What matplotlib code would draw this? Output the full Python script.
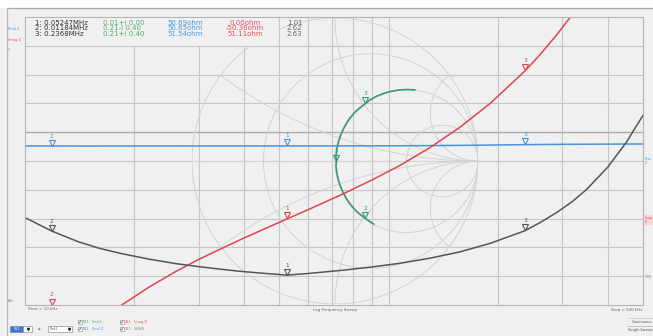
import numpy as np
import matplotlib
matplotlib.use("Agg")
import matplotlib.pyplot as plt
from matplotlib.patches import Rectangle, Circle
from matplotlib.transforms import offset_copy

# ---- sweep data (S11 of a series RLC network) ----
freq_khz = [10, 11.84, 14, 16, 18.5, 22, 26, 30, 34.3, 39, 45, 52.47, 60, 75, 90,
            107, 130, 157, 190, 236.8, 260, 290, 320, 350, 400, 450, 500]
real_z = [50.70, 50.65, 50.64, 50.64, 50.65, 50.66, 50.66, 50.67, 50.68, 50.68, 50.69,
          50.69, 50.70, 50.72, 50.76, 50.82, 50.92, 51.05, 51.25, 51.54, 51.62, 51.70,
          51.76, 51.80, 51.86, 51.90, 51.95]
imag_z = [-60.2, -50.36, -41.4, -35.4, -29.6, -23.4, -18.1, -14.0, -10.5, -7.2, -3.7,
          0.00, 3.2, 8.7, 13.5, 18.4, 24.7, 31.7, 39.9, 51.11, 56.6, 63.7, 70.7, 77.7,
          89.2, 100.8, 112.3]
vswr = [3.11, 2.62, 2.23, 1.99, 1.79, 1.59, 1.43, 1.32, 1.23, 1.15, 1.08, 1.01, 1.07,
        1.19, 1.31, 1.44, 1.63, 1.86, 2.17, 2.63, 2.92, 3.30, 3.70, 4.14, 4.95, 5.86, 6.84]
gamma_re = [0.270, 0.21, 0.150, 0.115, 0.085, 0.057, 0.037, 0.025, 0.017, 0.011, 0.007,
            0.01, 0.007, 0.013, 0.024, 0.038, 0.063, 0.095, 0.141, 0.21, 0.245, 0.290,
            0.335, 0.378, 0.443, 0.504, 0.558]
gamma_im = [-0.441, -0.40, -0.352, -0.313, -0.272, -0.221, -0.174, -0.137, -0.103, -0.071,
            -0.037, 0.00, 0.032, 0.086, 0.132, 0.177, 0.232, 0.287, 0.343, 0.40, 0.427,
            0.452, 0.470, 0.484, 0.496, 0.500, 0.497]

# ---- markers ----
marker_ids = ["1", "2", "3"]
marker_freq_mhz = [0.05247, 0.01184, 0.2368]
marker_gamma_re = [0.01, 0.21, 0.21]
marker_gamma_im = [0.00, -0.40, 0.40]
marker_real = [50.69, 50.65, 51.54]
marker_imag = [0.00, -50.36, 51.11]
marker_vswr = [1.01, 2.62, 2.63]

# ---- styling ----
BG = "#f0f0f0"
GRID = "#c6c6c6"
SMITH = "#d3d3d3"
C_BLUE = "#4a92dc"
C_RED = "#dc4552"
C_GREEN = "#3a9a72"
C_BLACK = "#555555"
T_GREEN = "#52b06e"
T_BLUE = "#4a9ae0"
T_RED = "#e2505c"

W, H = 653, 336
fig = plt.figure(figsize=(W / 100, H / 100), dpi=100, facecolor=BG)

# plot area in pixel units
PL, PR, PT, PB = 25, 643, 17, 305
rect = [PL / W, (H - PB) / H, (PR - PL) / W, (PB - PT) / H]

ax_bg = fig.add_axes(rect, label="grid", zorder=0)
ax_bg.set_facecolor(BG)
ax_bg.set_xscale("log")
ax_bg.set_xlim(10, 500)
ax_bg.set_ylim(0, 10)
for v in [20, 30, 40, 50, 60, 70, 80, 90, 100, 200, 300, 400]:
    ax_bg.axvline(v, color=GRID, lw=0.8)
for k in range(1, 10):
    ax_bg.axhline(k, color="#adadad" if k == 6 else GRID, lw=1.0 if k == 6 else 0.8)
ax_bg.set_xticks([]); ax_bg.set_yticks([])
ax_bg.minorticks_off()
for s in ax_bg.spines.values():
    s.set_visible(False)

# Smith chart drawn in the centre of the plot area
CX, CY, RAD = 335, 161, 143
ax_sm = fig.add_axes([(CX - RAD) / W, (H - CY - RAD) / H, 2 * RAD / W, 2 * RAD / H],
                     label="smith", zorder=1)
ax_sm.set_xlim(-1, 1); ax_sm.set_ylim(-1, 1)
ax_sm.axis("off")
ax_sm.patch.set_visible(False)
ax_sm.add_patch(Circle((0, 0), 1, fill=False, ec=SMITH, lw=0.7))
for r in [1 / 3, 1, 3]:
    ax_sm.add_patch(Circle((r / (1 + r), 0), 1 / (1 + r), fill=False, ec=SMITH, lw=0.7))
t = np.linspace(0, 2 * np.pi, 2000)
for xv in [1 / 3, 1, 3, -1 / 3, -1, -3]:
    px = 1 + np.cos(t) / abs(xv)
    py = 1 / xv + np.sin(t) / abs(xv)
    m = px ** 2 + py ** 2 <= 1.0005
    ax_sm.plot(np.where(m, px, np.nan), np.where(m, py, np.nan), color=SMITH, lw=0.7)
ax_sm.plot([-1, 1], [0, 0], color=SMITH, lw=0.7)
ax_sm.plot(gamma_re, gamma_im, color=C_GREEN, lw=1.2, zorder=3)


def trace_axes(label, ylim, z):
    a = fig.add_axes(rect, label=label, zorder=z, sharex=ax_bg)
    a.set_ylim(*ylim)
    a.patch.set_visible(False)
    a.axis("off")
    return a


ax_re = trace_axes("real", (-50.7, 132.9), 2)
ax_im = trace_axes("imag", (-29.7, 69.75), 3)
ax_sw = trace_axes("vswr", (-0.08, 10.43), 4)

ax_re.plot(freq_khz, real_z, color=C_BLUE, lw=1.1)
ax_im.plot(freq_khz, imag_z, color=C_RED, lw=1.1)
ax_sw.plot(freq_khz, vswr, color=C_BLACK, lw=1.1)


def draw_marker(ax, x, y, color, label):
    tri = offset_copy(ax.transData, fig=fig, x=0, y=3.5, units="dots")
    ax.plot([x], [y], marker="v", ms=4.0, mfc="none", mec=color, mew=0.8,
            transform=tri, clip_on=False, zorder=6)
    num = offset_copy(ax.transData, fig=fig, x=0, y=10, units="dots")
    ax.text(x, y, label, transform=num, ha="center", va="center", fontsize=4.2,
            color=color, zorder=6)


for i, lab in enumerate(marker_ids):
    fk = marker_freq_mhz[i] * 1000
    draw_marker(ax_re, fk, marker_real[i], C_BLUE, lab)
    lo, hi = ax_im.get_ylim()
    draw_marker(ax_im, fk, min(max(marker_imag[i], lo), hi), C_RED, lab)
    draw_marker(ax_sw, fk, marker_vswr[i], C_BLACK, lab)
    draw_marker(ax_sm, marker_gamma_re[i], marker_gamma_im[i], C_GREEN, lab)

# ---- overlay in pixel coordinates: frame, readout, labels, controls ----
ov = fig.add_axes([0, 0, 1, 1], label="overlay", zorder=10)
ov.set_xlim(0, W); ov.set_ylim(H, 0)
ov.axis("off")
ov.patch.set_visible(False)

ov.add_patch(Rectangle((0, 0), W, 8, fc="white", ec="none"))
ov.plot([7, W], [8, 8], color="#a8a8a8", lw=0.9)
ov.plot([7, 7], [8, H], color="#b8b8b8", lw=0.9)
ov.add_patch(Rectangle((PL, PT), PR - PL, PB - PT, fill=False, ec="#b4b4b4", lw=0.8))

# marker readout
ov.add_patch(Rectangle((PL + 0.6, PT + 0.6), 252, 28.4, fc=BG, ec="none", zorder=1))
rows_y = [22.6, 28.5, 34.4]
fs = 5.0
for i in range(3):
    y = rows_y[i]
    gi = marker_gamma_im[i]
    sign = "+" if gi >= 0 else "-"
    ov.text(35, y, f"{marker_ids[i]}: {marker_freq_mhz[i]:g}MHz", fontsize=fs,
            color="#333333", va="center", ha="left", zorder=2)
    ov.text(103, y, f"{marker_gamma_re[i]:.2f}{sign}i {abs(gi):.2f}", fontsize=fs,
            color=T_GREEN, va="center", ha="left", zorder=2)
    ov.text(167, y, f"{marker_real[i]:.2f}ohm", fontsize=fs, color=T_BLUE,
            va="center", ha="left", zorder=2)
    ov.text(245, y, f"{marker_imag[i]:.2f}ohm", fontsize=fs, color=T_RED,
            va="center", ha="center", zorder=2)
    ov.text(287, y, f"{marker_vswr[i]:.2f}", fontsize=fs, color="#666666",
            va="center", ha="left", zorder=2)

# left trace labels
ov.text(8, 29, "Real Z", fontsize=2.6, color=T_BLUE, va="center")
ov.text(8, 40, "Imag Z", fontsize=2.6, color=T_RED, va="center")
ov.text(8, 50, "S", fontsize=2.6, color="#999999", va="center")
ov.text(8, 301, "Ext", fontsize=2.6, color="#777777", va="center")

# right scale tags
ov.text(644.5, 161, "Real\nZ", fontsize=2.2, color=T_BLUE, va="center", linespacing=1.0)
ov.add_patch(Rectangle((644, 215), 9, 10, fc="#f6d6d8", ec="none"))
ov.text(644.5, 220, "Imag\nZ", fontsize=2.2, color=T_RED, va="center", linespacing=1.0)
ov.text(644.5, 277, "SWR", fontsize=2.2, color="#888888", va="center")

# sweep info
ov.text(28, 309.5, "Start = 10 kHz", fontsize=2.9, color="#666666", va="center")
ov.text(335, 309.5, "Log Frequency Sweep", fontsize=2.9, color="#666666", va="center",
        ha="center")
ov.text(642, 309.5, "Stop = 500 kHz", fontsize=2.9, color="#666666", va="center",
        ha="right")

# control strip
ov.add_patch(Rectangle((10, 325.5), 13, 6.5, fc="#3a78d8", ec="#7a7a7a", lw=0.4))
ov.text(16.5, 328.8, "S11", fontsize=2.4, color="white", va="center", ha="center")
ov.add_patch(Rectangle((23, 325.5), 9, 6.5, fc="white", ec="#7a7a7a", lw=0.4))
ov.plot([27.5], [328.8], marker="v", ms=1.6, color="#333333")
ov.text(38, 328.8, "at", fontsize=2.6, color="#555555", va="center")
ov.add_patch(Rectangle((48, 325.5), 24, 6.5, fc="white", ec="#7a7a7a", lw=0.4))
ov.text(50, 328.8, "Plot1", fontsize=2.4, color="#555555", va="center")
ov.plot([68.5], [328.8], marker="v", ms=1.6, color="#333333")

checks = [(78, 322, "Smith", T_GREEN), (78, 329, "Real Z", T_BLUE),
          (120, 322, "Imag Z", T_RED), (120, 329, "VSWR", "#888888")]
for cx, cy, name, col in checks:
    ov.add_patch(Rectangle((cx, cy - 1.8), 3.6, 3.6, fc="white", ec="#888888", lw=0.4))
    ov.plot([cx + 0.7, cx + 1.6, cx + 3.0], [cy, cy + 1.1, cy - 1.3], color="#444444", lw=0.4)
    ov.text(cx + 5, cy, "S11", fontsize=2.6, color=col, va="center")
    ov.text(cx + 14, cy, name, fontsize=2.6, color=col, va="center")

ov.plot([628, 653], [318, 318], color="#c8c8c8", lw=0.5)
ov.text(652, 322, "Continuous", fontsize=2.6, color="#555555", va="center", ha="right")
ov.plot([627, 653], [326, 326], color="#b0b0b0", lw=0.5)
ov.text(653, 330.5, "Single Sweep", fontsize=2.6, color="#555555", va="center", ha="right")

fig.savefig("out.png", dpi=100, facecolor=BG)
